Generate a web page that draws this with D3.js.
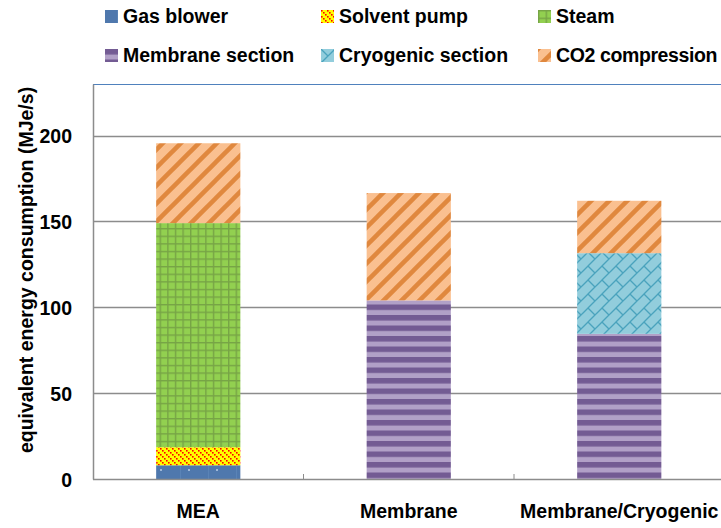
<!DOCTYPE html>
<html>
<head>
<meta charset="utf-8">
<script src="https://cdn.jsdelivr.net/npm/d3@7"></script>
<style>
  body { margin: 0; background: #fff; }
  svg { display: block; }
  text { font-family: "Liberation Sans", Arial, sans-serif; font-weight: bold; fill: #000; }
</style>
</head>
<body>
<svg width="721" height="528"></svg>
<script>
var categories = ["MEA", "Membrane", "Membrane/Cryogenic"];
var seriesNames = ["Gas blower", "Solvent pump", "Steam", "Membrane section", "Cryogenic section", "CO2 compression"];
var gasBlower = [8, 0, 0];
var solventPump = [10.5, 0, 0];
var steam = [130.5, 0, 0];
var membraneSection = [0, 104, 84.5];
var cryogenicSection = [0, 0, 47];
var co2Compression = [46.5, 62.5, 30.5];
var yTicks = [0, 50, 100, 150, 200];

var svg = d3.select("svg");
var width = 721, height = 528;
var plotLeft = 93, plotTop = 84, plotBottom = 479, plotRight = 724.5;

var allSeries = [gasBlower, solventPump, steam, membraneSection, cryogenicSection, co2Compression];
var rows = categories.map(function(c, i) {
  var r = { cat: c };
  seriesNames.forEach(function(s, j) { r[s] = allSeries[j][i]; });
  return r;
});
var stacked = d3.stack().keys(seriesNames)(rows);

var x = d3.scaleBand().domain(categories).range([plotLeft, plotRight]).paddingInner(0.6).paddingOuter(0.3);
var y = d3.scaleLinear().domain([0, 230]).range([plotBottom, plotTop]);

// patterns
var defs = svg.append("defs");

function pat(id, w, h) {
  return defs.append("pattern").attr("id", id).attr("patternUnits", "userSpaceOnUse")
    .attr("width", w).attr("height", h);
}

var p0 = pat("p-gas", 28, 14);
p0.append("rect").attr("width", 28).attr("height", 14).attr("fill", "#4f78ad");
p0.append("rect").attr("x", 12).attr("y", 0).attr("width", 1).attr("height", 14).attr("fill", "#5a83b6");
p0.append("rect").attr("x", 20).attr("y", 7).attr("width", 2).attr("height", 2).attr("fill", "#9db7d8");

var p1 = pat("p-solvent", 6, 6);
p1.append("rect").attr("width", 6).attr("height", 6).attr("fill", "#ffff00");
[[0, 0], [2, 2], [4, 4]].forEach(function(d) {
  p1.append("rect").attr("x", d[0]).attr("y", d[1]).attr("width", 1.6).attr("height", 1.6).attr("fill", "#ff0000");
});

var p2 = pat("p-steam", 7.6, 7.6);
p2.append("rect").attr("width", 7.6).attr("height", 7.6).attr("fill", "#92d050");
p2.append("rect").attr("x", 0).attr("y", 0).attr("width", 7.6).attr("height", 1.4).attr("fill", "#77a446");
p2.append("rect").attr("x", 0).attr("y", 0).attr("width", 1.4).attr("height", 7.6).attr("fill", "#77a446");

var p3 = pat("p-membrane", 10.5, 10.5);
p3.append("rect").attr("width", 10.5).attr("height", 10.5).attr("fill", "#b1a0c7");
p3.append("rect").attr("y", 0).attr("width", 10.5).attr("height", 5.5).attr("fill", "#735b93");

var p4 = pat("p-cryo", 14, 14);
p4.append("rect").attr("width", 14).attr("height", 14).attr("fill", "#92cddc");
var cryoLines = [[0, 14, 14, 0], [-2, 2, 2, -2], [12, 16, 16, 12], [0, 0, 7, 7]];
cryoLines.forEach(function(l) {
  p4.append("line").attr("x1", l[0]).attr("y1", l[1]).attr("x2", l[2]).attr("y2", l[3])
    .attr("stroke", "#4aa3bd").attr("stroke-width", 1.3);
});

var p5 = pat("p-co2", 18, 18);
p5.append("rect").attr("width", 18).attr("height", 18).attr("fill", "#fac090");
[[0, 18, 18, 0], [-4, 4, 4, -4], [14, 22, 22, 14]].forEach(function(l) {
  p5.append("line").attr("x1", l[0]).attr("y1", l[1]).attr("x2", l[2]).attr("y2", l[3])
    .attr("stroke", "#e0883e").attr("stroke-width", 4.5);
});

var fills = ["url(#p-gas)", "url(#p-solvent)", "url(#p-steam)", "url(#p-membrane)", "url(#p-cryo)", "url(#p-co2)"];

// plot frame
svg.append("line").attr("x1", plotLeft).attr("x2", width).attr("y1", plotTop + 0.5).attr("y2", plotTop + 0.5)
  .attr("stroke", "#4f81bd").attr("stroke-width", 1);

// gridlines
svg.append("g").selectAll("line").data(yTicks.filter(function(d) { return d > 0; })).enter().append("line")
  .attr("x1", plotLeft).attr("x2", width)
  .attr("y1", function(d) { return Math.round(y(d)) + 0.5; })
  .attr("y2", function(d) { return Math.round(y(d)) + 0.5; })
  .attr("stroke", "#8c8c8c").attr("stroke-width", 1.5);

// bars
svg.append("g").selectAll("g").data(stacked).enter().append("g")
  .attr("fill", function(d, i) { return fills[i]; })
  .selectAll("rect").data(function(d) { return d; }).enter().append("rect")
  .attr("x", function(d) { return x(d.data.cat); })
  .attr("width", x.bandwidth())
  .attr("y", function(d) { return y(d[1]); })
  .attr("height", function(d) { return y(d[0]) - y(d[1]); });

// axes
var yAxis = svg.append("g").attr("transform", "translate(" + plotLeft + ",0)")
  .call(d3.axisLeft(y).tickValues(yTicks).tickSize(0).tickPadding(21));
yAxis.select(".domain").attr("stroke", "#8c8c8c").attr("stroke-width", 1.5);
yAxis.selectAll("text").style("font-size", "19.5px").attr("dy", "0.36em");

var xAxis = svg.append("g").attr("transform", "translate(0," + plotBottom + ")")
  .call(d3.axisBottom(x).tickSize(0).tickPadding(25));
xAxis.select(".domain").remove();
xAxis.selectAll("text").style("font-size", "19.5px").attr("dy", "0.71em");
svg.append("line").attr("x1", plotLeft).attr("x2", width).attr("y1", plotBottom + 0.5).attr("y2", plotBottom + 0.5)
  .attr("stroke", "#8c8c8c").attr("stroke-width", 1.5);
// category separators
svg.append("g").selectAll("line").data(categories.slice(1)).enter().append("line")
  .attr("x1", function(d) { return x(d) - x.step() * 0.3; })
  .attr("x2", function(d) { return x(d) - x.step() * 0.3; })
  .attr("y1", plotBottom).attr("y2", plotBottom - 5)
  .attr("stroke", "#8c8c8c").attr("stroke-width", 1);

// y title
svg.append("text").attr("transform", "translate(33,270) rotate(-90)")
  .attr("text-anchor", "middle").style("font-size", "19.5px")
  .text("equivalent energy consumption (MJe/s)");

// legend
var legendPos = [[105, 10], [321, 10], [538, 10], [105, 49], [321, 49], [538, 49]];
var legend = svg.append("g").selectAll("g").data(seriesNames).enter().append("g")
  .attr("transform", function(d, i) { return "translate(" + legendPos[i][0] + "," + legendPos[i][1] + ")"; });
legend.append("rect").attr("width", 13).attr("height", 13)
  .attr("fill", function(d, i) { return fills[i]; });
legend.append("text").attr("x", 18).attr("y", 13).style("font-size", "19.5px")
  .text(function(d) { return d; })
  .each(function(d, i) {
    // squeeze the last entry so it stays inside the window
    var room = width - 4 - legendPos[i][0] - 18;
    var len = this.getComputedTextLength();
    if (len > room) {
      var n = d.length;
      d3.select(this).style("letter-spacing", ((room - len) / n).toFixed(2) + "px");
    }
  });
</script>
</body>
</html>
